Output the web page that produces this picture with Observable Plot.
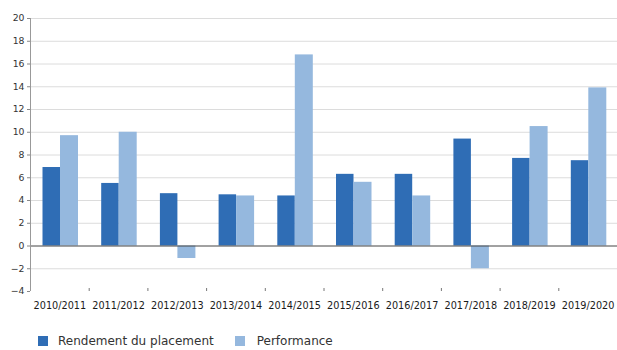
<!DOCTYPE html>
<html><head><meta charset="utf-8">
<script src="https://cdn.jsdelivr.net/npm/d3@7"></script>
<script src="https://cdn.jsdelivr.net/npm/@observablehq/plot@0.6"></script>
<style>
body{margin:0;background:#fff;font-family:"DejaVu Sans",sans-serif;}
#legend{display:flex;align-items:center;height:20px;margin-top:11px;padding-left:38px;font-size:12px;color:#333;}
.sw{display:inline-block;width:10px;height:10px;margin-right:10px;}
.item{display:flex;align-items:center;margin-right:21px;}
.item + .item .sw{margin-right:12px;}
</style></head>
<body><div id="chart"></div>
<div id="legend"></div>
<script>
const years = ["2010/2011","2011/2012","2012/2013","2013/2014","2014/2015","2015/2016","2016/2017","2017/2018","2018/2019","2019/2020"];
const rendement = [6.9, 5.5, 4.6, 4.5, 4.4, 6.3, 6.3, 9.4, 7.7, 7.5];
const performance = [9.7, 10.0, -1.1, 4.4, 16.8, 5.6, 4.4, -2.0, 10.5, 13.9];
const seriesNames = ["Rendement du placement", "Performance"];
const colors = ["#2f6db5", "#95b8de"];
const yTicks = [-4,-2,0,2,4,6,8,10,12,14,16,18,20];

const dataR = years.map((y,i)=>({year:y, value:rendement[i]}));
const dataP = years.map((y,i)=>({year:y, value:performance[i]}));

const W = 617, mL = 30, mR = 0;
const bw = (W - mL - mR) / years.length;

const chart = Plot.plot({
  width: W, height: 320,
  marginLeft: mL, marginRight: mR, marginTop: 18, marginBottom: 29,
  style: {fontFamily: "DejaVu Sans, sans-serif", color: "#333", fontSize: "9px"},
  x: {type: "band", domain: years, paddingInner: 0, paddingOuter: 0, round: false, label: null},
  y: {domain: [-4, 20], label: null},
  marks: [
    Plot.ruleY(yTicks.filter(d => d > -4 && d !== 0), {stroke: "#dcdcdc", strokeWidth: 1}),
    Plot.barY(dataR, {x: "year", y: "value", fill: colors[0], insetLeft: 12.5, insetRight: bw - 30}),
    Plot.barY(dataP, {x: "year", y: "value", fill: colors[1], insetLeft: 30, insetRight: bw - 48}),
    Plot.ruleY([0], {stroke: "#444", strokeWidth: 1}),
    Plot.axisY({ticks: yTicks, tickSize: 3, tickPadding: 3, fontSize: 9.3, stroke: "#888", fill: "#333", label: null}),
    Plot.ruleX([years[0]], {stroke: "#999", dx: -bw/2}),
    Plot.axisX({ticks: years.slice(0, -1), text: null, tickSize: -3, dx: bw/2, stroke: "#777", label: null}),
    Plot.axisX({ticks: years, tickSize: 0, tickPadding: 11, fontSize: 9.7, fill: "#1a1a1a", label: null})
  ]
});
document.getElementById("chart").appendChild(chart);

const leg = document.getElementById("legend");
seriesNames.forEach((n,i)=>{
  const it = document.createElement("span"); it.className = "item";
  it.innerHTML = `<span class="sw" style="background:${colors[i]}"></span>${n}`;
  leg.appendChild(it);
});
</script></body></html>
